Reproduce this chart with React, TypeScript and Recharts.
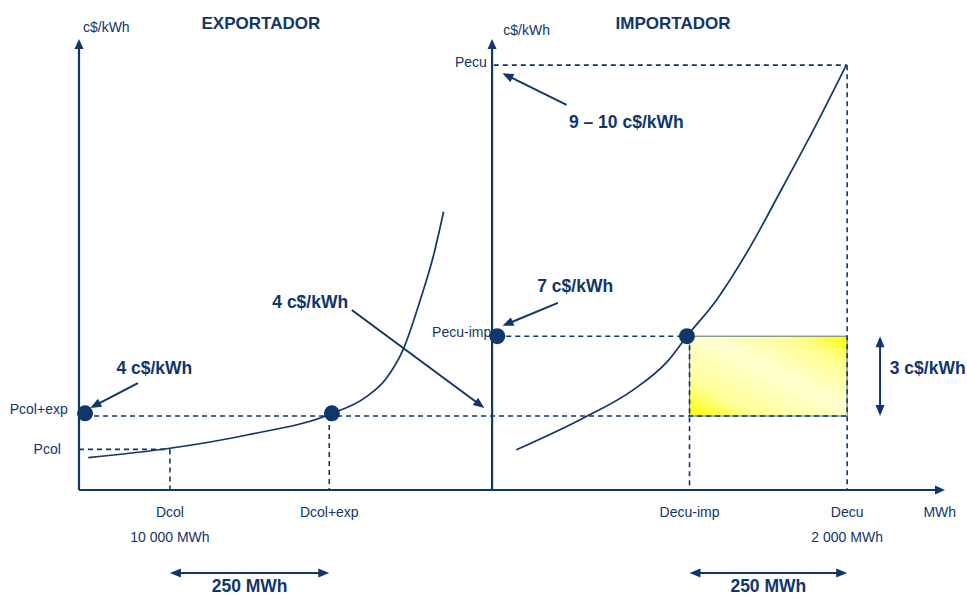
import { ComposedChart, Line, XAxis, YAxis, ReferenceLine, ReferenceDot, ReferenceArea } from "recharts"

const INK = "#10366a"
const FONT = "'Liberation Sans', Arial, sans-serif"

// price levels (schematic units, not to scale)
const P_COL = 9.0
const P_COL_EXP = 16.4
const P_ECU_IMP = 34.1
const P_ECU = 94.2

// quantities (schematic units)
const D_COL = 10.5
const D_COL_EXP = 28.9
const D_ECU_IMP = 70.5
const D_ECU = 88.7
const IMPORT_AXIS = 47.7

// supply curves
const exporterX = [1.07, 10.5, 19.4, 29.0, 33.2, 35.5, 37.4, 39.4, 40.9, 42.1]
const exporterY = [7.16, 9.25, 12.2, 16.8, 20.7, 24.8, 31.0, 42.1, 51.7, 61.7]
const importerX = [50.5, 58.2, 64.0, 67.9, 70.2, 73.6, 77.5, 81.3, 85.2, 88.6]
const importerY = [8.9, 15.9, 22.2, 28.4, 34.1, 42.1, 53.9, 67.3, 81.3, 94.2]

// equilibrium points
const dotX = [0.7, 29.2, 48.3, 70.2]
const dotY = [17.0, 17.0, 34.1, 34.1]

const exporterCurve = exporterX.map((x, i) => ({ x, y: exporterY[i] }))
const importerCurve = importerX.map((x, i) => ({ x, y: importerY[i] }))

type Pt = { x: number; y: number }
type Seg = [Pt, Pt]

const dashed: Seg[] = [
  [{ x: 0, y: P_COL }, { x: D_COL, y: P_COL }],
  [{ x: D_COL, y: P_COL }, { x: D_COL, y: 0 }],
  [{ x: 0.7, y: P_COL_EXP }, { x: D_ECU, y: P_COL_EXP }],
  [{ x: D_COL_EXP, y: P_COL_EXP }, { x: D_COL_EXP, y: 0 }],
  [{ x: 48.3, y: P_ECU_IMP }, { x: D_ECU_IMP, y: P_ECU_IMP }],
  [{ x: D_ECU_IMP, y: P_ECU_IMP }, { x: D_ECU_IMP, y: 0 }],
  [{ x: 47.9, y: P_ECU }, { x: D_ECU, y: P_ECU }],
  [{ x: D_ECU, y: P_ECU }, { x: D_ECU, y: 0 }],
]

const axes: Seg[] = [
  [{ x: 0, y: 0 }, { x: 0, y: 100 }],
  [{ x: IMPORT_AXIS, y: 0 }, { x: IMPORT_AXIS, y: 100 }],
  [{ x: 0, y: 0 }, { x: 100, y: 0 }],
]

const pointers: Seg[] = [
  [{ x: 6.8, y: 23.7 }, { x: 1.3, y: 18.2 }],
  [{ x: 31.5, y: 39.9 }, { x: 46.8, y: 18.2 }],
  [{ x: 56.3, y: 85.4 }, { x: 48.9, y: 92.4 }],
  [{ x: 55.3, y: 41.5 }, { x: 48.9, y: 36.4 }],
]

const spans: Seg[] = [
  [{ x: D_COL, y: -18.4 }, { x: D_COL_EXP, y: -18.4 }],
  [{ x: D_ECU_IMP, y: -18.4 }, { x: D_ECU, y: -18.4 }],
  [{ x: 92.5, y: P_ECU_IMP }, { x: 92.5, y: P_COL_EXP }],
]

type Note = { x: number; y: number; text: string; anchor: "start" | "middle" | "end"; bold?: boolean; size?: number }

const notes: Note[] = [
  { x: 0.46, y: 101.6, text: "c$/kWh", anchor: "start", size: 14 },
  { x: 21.0, y: 102.2, text: "EXPORTADOR", anchor: "middle", bold: true, size: 17 },
  { x: 49.0, y: 100.9, text: "c$/kWh", anchor: "start", size: 14 },
  { x: 68.6, y: 102.2, text: "IMPORTADOR", anchor: "middle", bold: true, size: 17 },
  { x: 47.1, y: 93.7, text: "Pecu", anchor: "end", size: 14 },
  { x: 63.2, y: 80.3, text: "9 – 10 c$/kWh", anchor: "middle", bold: true, size: 17.5 },
  { x: 57.3, y: 43.9, text: "7 c$/kWh", anchor: "middle", bold: true, size: 17.5 },
  { x: 26.7, y: 40.4, text: "4 c$/kWh", anchor: "middle", bold: true, size: 17.5 },
  { x: 8.7, y: 25.7, text: "4 c$/kWh", anchor: "middle", bold: true, size: 17.5 },
  { x: 47.6, y: 33.9, text: "Pecu-imp", anchor: "end", size: 14 },
  { x: -1.3, y: 16.9, text: "Pcol+exp", anchor: "end", size: 14 },
  { x: -2.1, y: 8.0, text: "Pcol", anchor: "end", size: 14 },
  { x: 98.0, y: 25.7, text: "3 c$/kWh", anchor: "middle", bold: true, size: 17.5 },
  { x: D_COL, y: -6.0, text: "Dcol", anchor: "middle", size: 14 },
  { x: D_COL, y: -11.6, text: "10 000 MWh", anchor: "middle", size: 14 },
  { x: D_COL_EXP, y: -6.0, text: "Dcol+exp", anchor: "middle", size: 14 },
  { x: D_ECU_IMP, y: -6.0, text: "Decu-imp", anchor: "middle", size: 14 },
  { x: D_ECU, y: -6.0, text: "Decu", anchor: "middle", size: 14 },
  { x: D_ECU, y: -11.6, text: "2 000 MWh", anchor: "middle", size: 14 },
  { x: 99.4, y: -6.0, text: "MWh", anchor: "middle", size: 14 },
  { x: 19.7, y: -22.7, text: "250 MWh", anchor: "middle", bold: true, size: 17.5 },
  { x: 79.6, y: -22.7, text: "250 MWh", anchor: "middle", bold: true, size: 17.5 },
]

function head(tx: number, ty: number, fx: number, fy: number, len: number, half: number) {
  const dx = tx - fx
  const dy = ty - fy
  const d = Math.hypot(dx, dy) || 1
  const ux = dx / d
  const uy = dy / d
  const bx = tx - ux * len
  const by = ty - uy * len
  return `${tx},${ty} ${bx - uy * half},${by + ux * half} ${bx + uy * half},${by - ux * half}`
}

function arrowShape(both: boolean, width: number, len = 10, half = 4.5) {
  return (p: any) => {
    const { x1, y1, x2, y2 } = p
    const d = Math.hypot(x2 - x1, y2 - y1) || 1
    const ux = (x2 - x1) / d
    const uy = (y2 - y1) / d
    const sx = both ? x1 + ux * len * 0.8 : x1
    const sy = both ? y1 + uy * len * 0.8 : y1
    return (
      <g>
        <line x1={sx} y1={sy} x2={x2 - ux * len * 0.8} y2={y2 - uy * len * 0.8} stroke={INK} strokeWidth={width} />
        <polygon points={head(x2, y2, x1, y1, len, half)} fill={INK} />
        {both && <polygon points={head(x1, y1, x2, y2, len, half)} fill={INK} />}
      </g>
    )
  }
}

function noteShape(n: Note) {
  return (p: any) => (
    <text
      x={p.cx}
      y={p.cy}
      textAnchor={n.anchor}
      fill={INK}
      fontFamily={FONT}
      fontSize={n.size ?? 14}
      fontWeight={n.bold ? 700 : 400}
    >
      {n.text}
    </text>
  )
}

function yellowBox(p: any) {
  const { x, y, width, height } = p
  return (
    <g>
      <defs>
        <linearGradient id="surplus" x1="0" y1="1" x2="1" y2="0">
          <stop offset="0" stopColor="#ffff00" />
          <stop offset="0.22" stopColor="#ffff9a" />
          <stop offset="0.55" stopColor="#ffffd0" />
          <stop offset="0.82" stopColor="#ffff90" />
          <stop offset="1" stopColor="#ffff00" />
        </linearGradient>
      </defs>
      <rect x={x} y={y} width={width} height={height} fill="url(#surplus)" stroke="#71848f" strokeWidth={1.2} />
    </g>
  )
}

export default function App() {
  return (
    <div style={{ position: "absolute", left: 0, top: 0, width: 967, height: 597, background: "#fff" }}>
      <ComposedChart width={967} height={597} margin={{ top: 39, right: 22, bottom: 107, left: 79 }}>
        <XAxis type="number" dataKey="x" domain={[0, 100]} hide allowDataOverflow />
        <YAxis type="number" dataKey="y" domain={[0, 100]} hide allowDataOverflow />

        <ReferenceArea
          x1={D_ECU_IMP}
          x2={D_ECU}
          y1={P_COL_EXP}
          y2={P_ECU_IMP}
          ifOverflow="visible"
          shape={yellowBox}
        />

        {dashed.map((s, i) => (
          <ReferenceLine
            key={`d${i}`}
            segment={s}
            ifOverflow="visible"
            stroke={INK}
            strokeWidth={1.6}
            strokeDasharray="5 4"
          />
        ))}

        <Line data={exporterCurve} dataKey="y" type="monotone" dot={false} stroke={INK} strokeWidth={1.7} isAnimationActive={false} />
        <Line data={importerCurve} dataKey="y" type="monotone" dot={false} stroke={INK} strokeWidth={1.7} isAnimationActive={false} />

        {axes.map((s, i) => (
          <ReferenceLine key={`a${i}`} segment={s} ifOverflow="visible" shape={arrowShape(false, 2.2, 10, 4.5)} />
        ))}
        {pointers.map((s, i) => (
          <ReferenceLine key={`p${i}`} segment={s} ifOverflow="visible" shape={arrowShape(false, 2, 11, 4.5)} />
        ))}
        {spans.map((s, i) => (
          <ReferenceLine key={`s${i}`} segment={s} ifOverflow="visible" shape={arrowShape(true, 2, 11, 4.5)} />
        ))}

        {dotX.map((x, i) => (
          <ReferenceDot key={`e${i}`} x={x} y={dotY[i]} r={8} fill={INK} stroke="none" ifOverflow="visible" />
        ))}

        {notes.map((n, i) => (
          <ReferenceDot key={`n${i}`} x={n.x} y={n.y} r={1} ifOverflow="visible" shape={noteShape(n)} />
        ))}
      </ComposedChart>
    </div>
  )
}
